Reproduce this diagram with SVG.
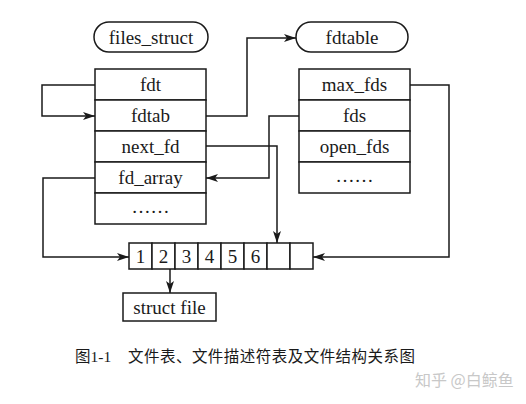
<svg xmlns="http://www.w3.org/2000/svg" width="526" height="404" viewBox="0 0 526 404">
<style>
.box{fill:#fff;stroke:#1a1a1a;stroke-width:1.5}
.t{font-family:"Liberation Serif","Times New Roman",serif;font-size:19px;fill:#1a1a1a;text-anchor:middle}
.c{fill:none;stroke:#1a1a1a;stroke-width:1.5}
.cap{font-family:"Liberation Serif","Noto Sans CJK SC",serif;font-size:15.5px;fill:#1a1a1a}
.wm{font-family:"Noto Sans CJK SC",sans-serif;font-size:16px;fill:#c8c8c8}
</style>
<defs>
<marker id="ah" viewBox="0 0 12 8" refX="12" refY="4" markerWidth="12" markerHeight="8" markerUnits="userSpaceOnUse" orient="auto">
<path d="M0,0 L12,4 L0,8 L3,4 z" fill="#1a1a1a"/>
</marker>
</defs>
<rect width="526" height="404" fill="#fff"/>
<g id="files_struct">
<rect class="box" x="94" y="22" width="114" height="30" rx="15"/>
<text class="t" x="151" y="44">files_struct</text>
</g>
<g id="fdtable">
<rect class="box" x="296" y="22" width="112" height="30" rx="15"/>
<text class="t" x="352" y="44">fdtable</text>
</g>
<g id="files_table">
<rect class="box" x="95" y="69" width="111" height="31"/>
<rect class="box" x="95" y="100" width="111" height="31"/>
<rect class="box" x="95" y="131" width="111" height="31"/>
<rect class="box" x="95" y="162" width="111" height="31"/>
<rect class="box" x="95" y="193" width="111" height="31"/>
<text class="t" x="150.5" y="91">fdt</text>
<text class="t" x="150.5" y="122">fdtab</text>
<text class="t" x="150.5" y="153">next_fd</text>
<text class="t" x="150.5" y="184">fd_array</text>
<text class="t" x="150.5" y="213">……</text>
</g>
<g id="fdt_table">
<rect class="box" x="299" y="69" width="111" height="31"/>
<rect class="box" x="299" y="100" width="111" height="31"/>
<rect class="box" x="299" y="131" width="111" height="31"/>
<rect class="box" x="299" y="162" width="111" height="31"/>
<text class="t" x="354.5" y="91">max_fds</text>
<text class="t" x="354.5" y="122">fds</text>
<text class="t" x="354.5" y="153">open_fds</text>
<text class="t" x="354.5" y="182">……</text>
</g>
<g id="fd_array_cells">
<rect class="box" x="129" y="243" width="23" height="26"/>
<rect class="box" x="152" y="243" width="23" height="26"/>
<rect class="box" x="175" y="243" width="23" height="26"/>
<rect class="box" x="198" y="243" width="23" height="26"/>
<rect class="box" x="221" y="243" width="23" height="26"/>
<rect class="box" x="244" y="243" width="23" height="26"/>
<rect class="box" x="267" y="243" width="23" height="26"/>
<rect class="box" x="290" y="243" width="23" height="26"/>
<text class="t" x="140.5" y="263">1</text>
<text class="t" x="163.5" y="263">2</text>
<text class="t" x="186.5" y="263">3</text>
<text class="t" x="209.5" y="263">4</text>
<text class="t" x="232.5" y="263">5</text>
<text class="t" x="255.5" y="263">6</text>
</g>
<g id="struct_file">
<rect class="box" x="123" y="293" width="93" height="28"/>
<text class="t" x="169.5" y="314">struct file</text>
</g>
<g id="connectors">
<path class="c" d="M95,85 H42 V116 H95" marker-end="url(#ah)"/>
<path class="c" d="M206,116 H247 V38 H296" marker-end="url(#ah)"/>
<path class="c" d="M299,116 H269 V178 H206" marker-end="url(#ah)"/>
<path class="c" d="M206,146 H277 V243" marker-end="url(#ah)"/>
<path class="c" d="M95,178 H43 V257 H129" marker-end="url(#ah)"/>
<path class="c" d="M410,85 H449 V257 H313" marker-end="url(#ah)"/>
<path class="c" d="M170,269 V293" marker-end="url(#ah)"/>
</g>
<text class="cap" x="75" y="362">图1-1</text>
<text class="cap" x="128" y="362" textLength="287" lengthAdjust="spacing">文件表、文件描述符表及文件结构关系图</text>
<text class="wm" x="415" y="386">知乎 @白鲸鱼</text>
</svg>
